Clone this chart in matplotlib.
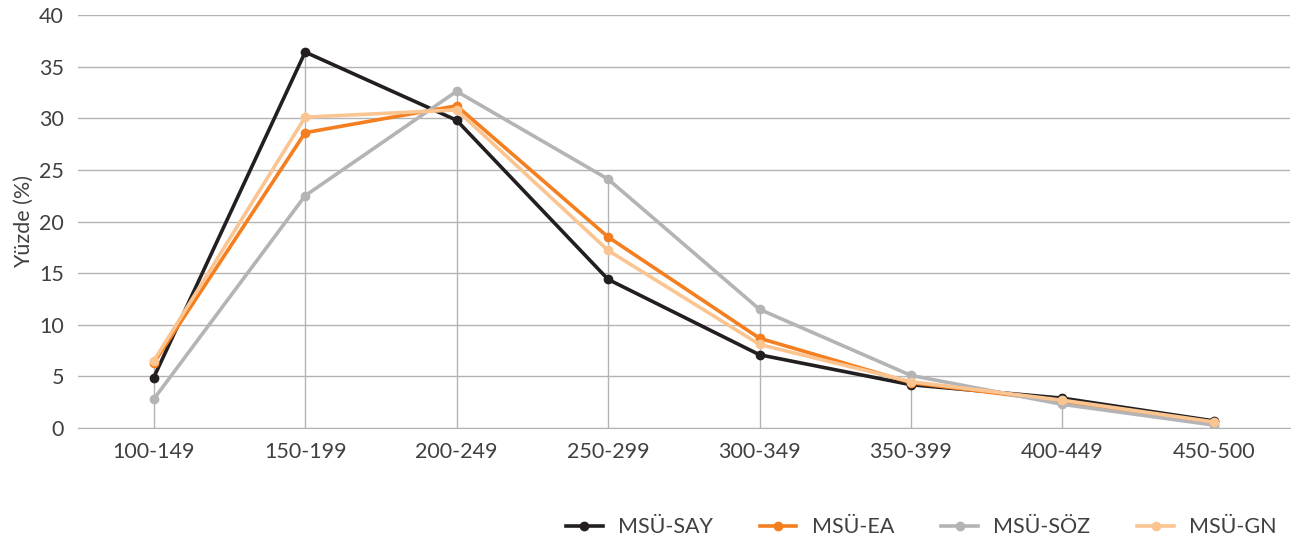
import numpy as np
import matplotlib
matplotlib.use("Agg")
import matplotlib.pyplot as plt

plt.rcParams['font.family'] = ['Lato', 'DejaVu Sans']

categories = ["100-149", "150-199", "200-249", "250-299",
              "300-349", "350-399", "400-449", "450-500"]
say = [4.9, 36.4, 29.8, 14.4, 7.1, 4.2, 2.9, 0.7]
ea = [6.3, 28.6, 31.2, 18.5, 8.7, 4.4, 2.6, 0.4]
soz = [2.8, 22.5, 32.6, 24.1, 11.5, 5.1, 2.3, 0.3]
gn = [6.5, 30.1, 30.8, 17.2, 8.1, 4.5, 2.7, 0.6]

series = [("MSÜ-SAY", say, "#231f20"),
          ("MSÜ-EA", ea, "#f47f20"),
          ("MSÜ-SÖZ", soz, "#b4b4b6"),
          ("MSÜ-GN", gn, "#fbc592")]

text_color = "#404040"
grid_color = "#b3b3b3"
fs = 15.5

fig = plt.figure(figsize=(13, 5.51), dpi=100)
ax = fig.add_axes([0.06, 0.223, 0.932, 0.75])

x = np.arange(len(categories))

# drop lines from the axis up to the highest point at each category
tops = np.max(np.array([say, ea, soz, gn]), axis=0)
ax.vlines(x, 0, tops, color=grid_color, linewidth=1.0, zorder=1)

for name, values, color in series:
    ax.plot(x, values, color=color, linewidth=2.6, marker='o',
            markersize=6, label=name, zorder=3)

ax.set_xlim(-0.5, len(categories) - 0.5)
ax.set_ylim(0, 40)
ax.set_yticks(range(0, 41, 5))
ax.set_xticks(x)
ax.set_xticklabels(categories)
ax.yaxis.grid(True, color=grid_color, linewidth=1.0)
ax.set_axisbelow(True)
for side in ['top', 'right', 'left']:
    ax.spines[side].set_visible(False)
ax.spines['bottom'].set_color(grid_color)
ax.tick_params(axis='both', length=0, labelsize=fs, colors=text_color, pad=10)
ax.set_ylabel("Yüzde (%)", fontsize=fs, color=text_color, labelpad=4)

leg = fig.legend(loc='lower right', bbox_to_anchor=(0.997, -0.01), ncol=4,
                 frameon=False, fontsize=fs, handlelength=1.7,
                 columnspacing=2.2, handletextpad=0.7)
for t in leg.get_texts():
    t.set_color(text_color)

fig.savefig("out.png", dpi=100)
